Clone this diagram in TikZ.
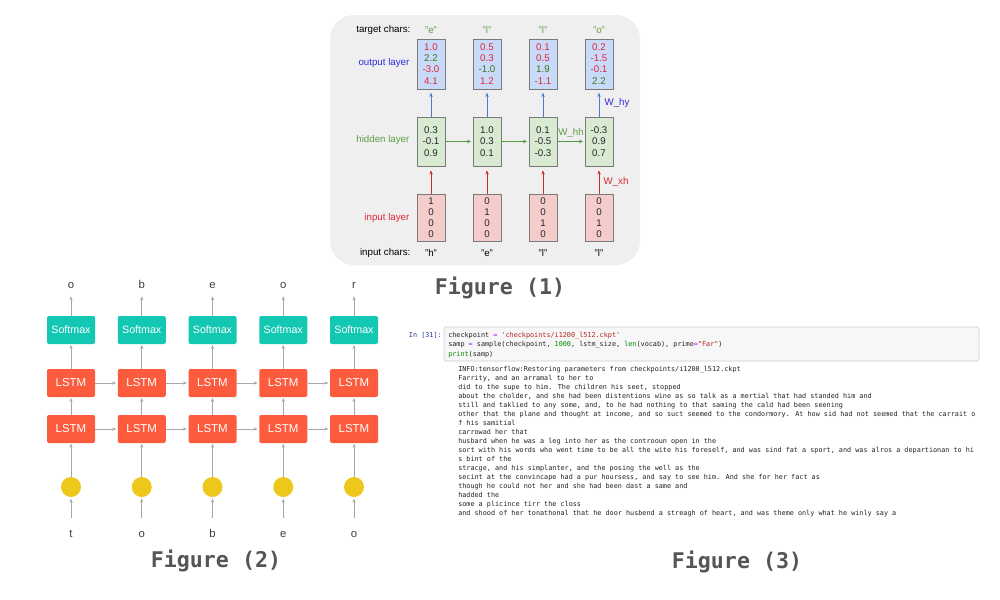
\documentclass[tikz,border=0pt]{standalone}
\usepackage{fontspec}
\setmainfont{Liberation Sans}
\setmonofont{DejaVu Sans Mono}
\newfontfamily\figfont{DejaVu Sans Mono}
\usetikzlibrary{arrows.meta}
\definecolor{bgc}{HTML}{EFEFEF}
\definecolor{boxc}{HTML}{7A7A7A}
\definecolor{outc}{HTML}{C9DAF8}
\definecolor{hidc}{HTML}{D9EAD3}
\definecolor{inc}{HTML}{F4CCCC}
\definecolor{redt}{HTML}{E3263A}
\definecolor{grnt}{HTML}{38761D}
\definecolor{lgrn}{HTML}{5E9E44}
\definecolor{blut}{HTML}{2B2BE0}
\definecolor{barr}{HTML}{4A7BD0}
\definecolor{garr}{HTML}{5A9A40}
\definecolor{rarr}{HTML}{D02A2A}
\definecolor{tealc}{HTML}{13C8B3}
\definecolor{lstmc}{HTML}{FC5B3D}
\definecolor{yelc}{HTML}{EDC71B}
\definecolor{arrc}{HTML}{A8A8A8}
\definecolor{labc}{HTML}{3A3F48}
\definecolor{figc}{HTML}{555555}
\definecolor{codebg}{HTML}{F7F7F7}
\definecolor{codebd}{HTML}{CFCFCF}
\definecolor{promptc}{HTML}{303F9F}
\definecolor{strc}{HTML}{BA2121}
\definecolor{opc}{HTML}{AA22FF}
\definecolor{numc}{HTML}{008800}
\definecolor{codet}{HTML}{222222}
\newcommand\cfnt{\ttfamily\fontsize{5.1}{6.75}\selectfont}
\tikzset{
  f1txt/.style={font=\fontsize{7.3}{8.5}\selectfont, inner sep=1pt},
  vbox/.style={draw=boxc, line width=0.6pt, minimum width=21pt, inner sep=0pt,
    align=center, font=\fontsize{7.3}{8.4}\selectfont, text=black!85},
  obox/.style={vbox, fill=outc, minimum height=37.5pt},
  hbox/.style={vbox, fill=hidc, minimum height=36.75pt},
  ibox/.style={vbox, fill=inc, minimum height=35.25pt},
  tip1/.style={-{Stealth[length=3pt,width=2.6pt]}, line width=0.6pt},
  barrow/.style={tip1, draw=barr, fill=barr, shorten >=2.5pt},
  rarrow/.style={tip1, draw=rarr, fill=rarr, shorten >=3pt},
  garrowh/.style={tip1, draw=garr, fill=garr, shorten >=1.2pt},
  smx/.style={fill=tealc, rounded corners=1.5pt, minimum width=36pt, minimum height=21pt,
    text=white, font=\fontsize{8}{9}\selectfont, inner sep=0pt},
  lstm/.style={smx, fill=lstmc, font=\fontsize{8.6}{10}\selectfont},
  emb/.style={circle, fill=yelc, minimum size=15pt, inner sep=0pt},
  glab/.style={font=\fontsize{8.5}{10}\selectfont, text=labc, inner sep=2pt,
    text height=6.2pt, text depth=0pt, anchor=base},
  garrow/.style={draw=arrc, fill=arrc, line width=0.55pt, -{Stealth[length=3pt,width=2.4pt]}},
  figlab/.style={font=\figfont\bfseries\fontsize{16.2}{18}\selectfont, text=figc},
  cline/.style={font=\cfnt, anchor=base west, inner sep=0pt, text=codet},
}
\begin{document}
\begin{tikzpicture}[x=0.75pt,y=-0.75pt]
\useasboundingbox (0,0) rectangle (1000,600);
\fill[white] (0,0) rectangle (1000,600);

%%%%%%%%%%%%%%%% Figure 1
\fill[bgc, rounded corners=18pt] (330,15) rectangle (640,265);

\node[f1txt, anchor=east] (tcl) at (412,30) {target chars:};
\node[f1txt, anchor=east, text=blut] (oll) at (411,63) {output layer};
\node[f1txt, anchor=east, text=lgrn] (hll) at (411,140) {hidden layer};
\node[f1txt, anchor=east, text=redt] (ill) at (411,218) {input layer};
\node[f1txt, anchor=east] (icl) at (412,253) {input chars:};

\node[f1txt, text=lgrn] (t1) at (431,30) {"e"};
\node[f1txt, text=lgrn] (t2) at (487,30) {"l"};
\node[f1txt, text=lgrn] (t3) at (543,30) {"l"};
\node[f1txt, text=lgrn] (t4) at (599,30) {"o"};

\node[obox] (o1) at (431,64) {\textcolor{redt}{1.0}\\\textcolor{grnt}{2.2}\\\textcolor{redt}{-3.0}\\\textcolor{redt}{4.1}};
\node[obox] (o2) at (487,64) {\textcolor{redt}{0.5}\\\textcolor{redt}{0.3}\\\textcolor{grnt}{-1.0}\\\textcolor{redt}{1.2}};
\node[obox] (o3) at (543,64) {\textcolor{redt}{0.1}\\\textcolor{redt}{0.5}\\\textcolor{grnt}{1.9}\\\textcolor{redt}{-1.1}};
\node[obox] (o4) at (599,64) {\textcolor{redt}{0.2}\\\textcolor{redt}{-1.5}\\\textcolor{redt}{-0.1}\\\textcolor{grnt}{2.2}};

\node[hbox] (h1) at (431,141.5) {0.3\\-0.1\\0.9};
\node[hbox] (h2) at (487,141.5) {1.0\\0.3\\0.1};
\node[hbox] (h3) at (543,141.5) {0.1\\-0.5\\-0.3};
\node[hbox] (h4) at (599,141.5) {-0.3\\0.9\\0.7};

\node[ibox] (i1) at (431,217.5) {1\\0\\0\\0};
\node[ibox] (i2) at (487,217.5) {0\\1\\0\\0};
\node[ibox] (i3) at (543,217.5) {0\\0\\1\\0};
\node[ibox] (i4) at (599,217.5) {0\\0\\1\\0};

\node[f1txt] (c1) at (431,253) {"h"};
\node[f1txt] (c2) at (487,253) {"e"};
\node[f1txt] (c3) at (543,253) {"l"};
\node[f1txt] (c4) at (599,253) {"l"};

\foreach \k in {1,2,3,4}{
  \draw[barrow] (h\k.north) -- (o\k.south);
  \draw[rarrow] (i\k.north) -- (h\k.south);
}
\draw[garrowh] (h1.east) -- (h2.west);
\draw[garrowh] (h2.east) -- (h3.west);
\draw[garrowh] (h3.east) -- (h4.west);

\node[f1txt, text=blut] (why) at (617,103) {W\_hy};
\node[f1txt, text=lgrn] (whh) at (571,133) {W\_hh};
\node[f1txt, text=rarr] (wxh) at (616,182) {W\_xh};

\node[figlab] (fig1) at (500,288) {Figure (1)};

%%%%%%%%%%%%%%%% Figure 2
\foreach \k/\xx/\yo/\xi in {1/71/o/t, 2/141.75/b/o, 3/212.5/e/b, 4/283.25/o/e, 5/354/r/o}{
  \node[glab] (y\k) at (\xx,288) {\yo};
  \node[smx] (s\k) at (\xx,330) {Softmax};
  \node[lstm] (la\k) at (\xx,383) {LSTM};
  \node[lstm] (lb\k) at (\xx,429) {LSTM};
  \node[emb] (e\k) at (\xx,487) {};
  \node[glab] (x\k) at (\xx,537) {\xi};
  \draw[garrow, shorten >=4pt] (s\k.north) -- (y\k.south);
  \draw[garrow, shorten >=0.5pt] (la\k.north) -- (s\k.south);
  \draw[garrow, shorten >=0.5pt] (lb\k.north) -- (la\k.south);
  \draw[garrow, shorten >=0.3pt] (e\k.north) -- (lb\k.south);
  \draw[garrow, shorten <=6pt, shorten >=1pt] (x\k.north) -- (e\k.south);
}
\foreach \a/\b in {1/2,2/3,3/4,4/5}{
  \draw[garrow, shorten >=1pt] (la\a.east) -- (la\b.west);
  \draw[garrow, shorten >=1pt] (lb\a.east) -- (lb\b.west);
}
\node[figlab] (fig2) at (216,561) {Figure (2)};

%%%%%%%%%%%%%%%% Figure 3
\draw[fill=codebg, draw=codebd, line width=0.5pt, rounded corners=1.2pt] (444,327) rectangle (979,361);
\node[cline, anchor=base east, text=promptc] (prompt) at (442,337) {In [31]:};
\node[cline] (k1) at (448,337) {checkpoint \textcolor{opc}{=} \textcolor{strc}{'checkpoints/i1200\_l512.ckpt'}};
\node[cline] (k2) at (448,346.5) {samp \textcolor{opc}{=} sample(checkpoint, \textcolor{numc}{1000}, lstm\_size, \textcolor{numc}{len}(vocab), prime\textcolor{opc}{=}\textcolor{strc}{"Far"})};
\node[cline] (k3) at (448,356) {\textcolor{numc}{print}(samp)};

\node[cline] (r1) at (458,371) {INFO:tensorflow:Restoring parameters from checkpoints/i1200\_l512.ckpt};
\node[cline] (r2) at (458,380) {Farrity, and an arramal to her to};
\node[cline] (r3) at (458,389) {did to the supe to him. The children his seet, stopped};
\node[cline] (r4) at (458,398) {about the cholder, and she had been distentions wine as so talk as a mertial that had standed him and};
\node[cline] (r5) at (458,407) {still and taklied to any some, and, to he had nothing to that saming the cald had been seening};
\node[cline] (r6) at (458,416) {other that the plane and thought at income, and so suct seemed to the condormory. At how sid had not seemed that the carrait o};
\node[cline] (r7) at (458,425) {f his samitial};
\node[cline] (r8) at (458,434) {carrowad her that};
\node[cline] (r9) at (458,443) {husbard when he was a leg into her as the controoun open in the};
\node[cline] (r10) at (458,452) {sort with his words who went time to be all the wite his foreself, and was sind fat a sport, and was alros a departionan to hi};
\node[cline] (r11) at (458,461) {s bint of the};
\node[cline] (r12) at (458,470) {stracge, and his simplanter, and the posing the well as the};
\node[cline] (r13) at (458,479) {secint at the convincape had a pur hoursess, and say to see him. And she for her fact as};
\node[cline] (r14) at (458,488) {though he could not her and she had been dast a same and};
\node[cline] (r15) at (458,497) {hadded the};
\node[cline] (r16) at (458,506) {some a plicince tirr the closs};
\node[cline] (r17) at (458,515) {and shood of her tonathonal that he door husbend a streagh of heart, and was theme only what he winly say a};

\node[figlab] (fig3) at (737,562) {Figure (3)};
\end{tikzpicture}
\end{document}
